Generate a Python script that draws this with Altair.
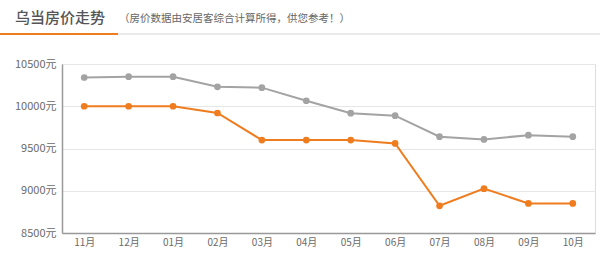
import altair as alt
import pandas as pd

months = ["11月", "12月", "01月", "02月", "03月", "04月", "05月", "06月", "07月", "08月", "09月", "10月"]
gray_vals = [10340, 10350, 10350, 10230, 10220, 10065, 9918, 9888, 9640, 9607, 9658, 9640]
orange_vals = [10000, 10000, 10000, 9920, 9600, 9600, 9600, 9560, 8822, 9025, 8850, 8850]
series_names = ["对比均价", "乌当均价"]
series_colors = ["#a3a3a3", "#ef7d1f"]
y_ticks = [8500, 9000, 9500, 10000, 10500]

rows = []
for m, g, o in zip(months, gray_vals, orange_vals):
    rows.append({"month": m, "price": g, "series": series_names[0]})
    rows.append({"month": m, "price": o, "series": series_names[1]})
df = pd.DataFrame(rows)

FONT = "Noto Sans CJK SC"

x_enc = alt.X("month:N", sort=months, title=None,
              scale=alt.Scale(paddingInner=0, paddingOuter=0),
              axis=alt.Axis(labelAngle=0, labelFontSize=10, labelColor="#6a6a6a",
                            labelFont=FONT, ticks=False, labelPadding=4,
                            domainColor="#999", domainWidth=1.5, grid=False))
y_enc = alt.Y("price:Q", title=None,
              scale=alt.Scale(domain=[8500, 10500], nice=False, zero=False),
              axis=alt.Axis(values=y_ticks, labelExpr="datum.value + '元'",
                            labelFontSize=11, labelColor="#6a6a6a", labelFont=FONT,
                            ticks=False, labelPadding=6, domainColor="#999",
                            domainWidth=1.5, gridColor="#e6e6e6"))
color_enc = alt.Color("series:N", scale=alt.Scale(domain=series_names, range=series_colors),
                      legend=None)

base = alt.Chart(df)
lines = base.mark_line(strokeWidth=2).encode(x=x_enc, y=y_enc, color=color_enc, detail="series:N")
points = base.mark_circle(size=45, opacity=1).encode(x=x_enc, y=y_enc, color=color_enc)

title_df = pd.DataFrame({"t": ["乌当房价走势"]})
sub_df = pd.DataFrame({"t": ["（房价数据由安居客综合计算所得，供您参考！）"]})
title = alt.Chart(title_df).mark_text(align="left", baseline="middle", fontSize=15,
                                      font=FONT, color="#555", fontWeight=500).encode(
    text="t:N", x=alt.value(-47), y=alt.value(-46))
sub = alt.Chart(sub_df).mark_text(align="left", baseline="middle", fontSize=10.5,
                                  font=FONT, color="#666").encode(
    text="t:N", x=alt.value(57), y=alt.value(-45))
line_gray = alt.Chart(title_df).mark_rule(color="#e3e3e3", strokeWidth=1.5).encode(
    x=alt.value(56), x2=alt.value(538), y=alt.value(-30))
line_orange = alt.Chart(title_df).mark_rule(color="#ef7d1f", strokeWidth=2).encode(
    x=alt.value(-62), x2=alt.value(56), y=alt.value(-30))

chart = alt.layer(line_gray, line_orange, title, sub, lines, points).properties(
    width=533, height=169,
    autosize=alt.AutoSizeParams(type="none"),
    padding={"left": 62, "top": 64, "right": 5, "bottom": 40},
).configure_view(stroke=None).configure(background="white")

chart.save("out.html", embed_options={"renderer": "svg", "actions": False})
